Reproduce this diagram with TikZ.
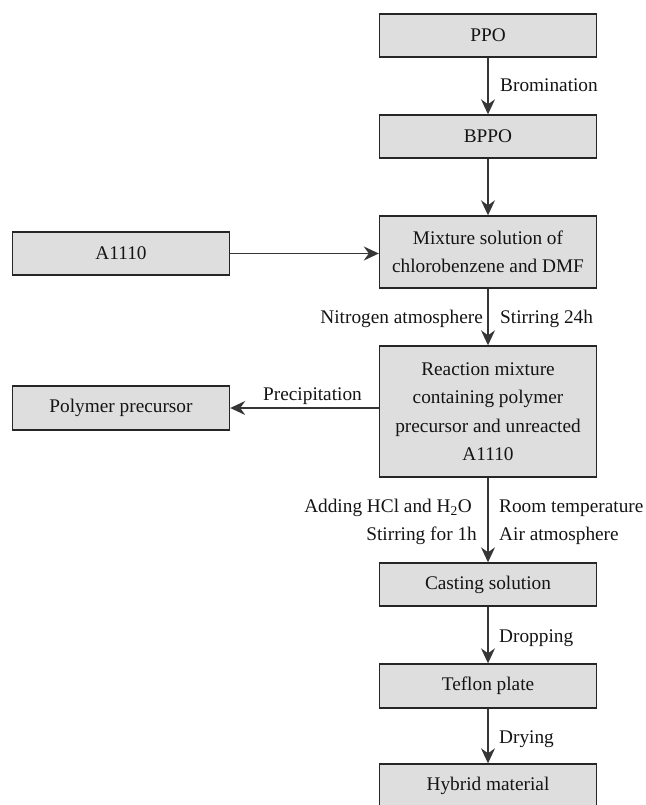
\documentclass[tikz,border=0pt]{standalone}
\usepackage{fontspec}
\setmainfont{Liberation Serif}
\usetikzlibrary{arrows.meta}
\definecolor{boxfill}{HTML}{DEDEDE}
\definecolor{boxline}{HTML}{262626}
\definecolor{arrline}{HTML}{363636}
\definecolor{txt}{HTML}{141414}
\newcommand{\fsz}{\fontsize{19.3}{28.5}\selectfont}
\begin{document}
\begin{tikzpicture}[x=1pt,y=-1pt,
  procbox/.style={draw=boxline, fill=boxfill, line width=1.4pt, minimum width=217pt,
    minimum height=43pt, inner sep=0pt, align=center, font=\fsz, text=txt},
  lab/.style={font=\fsz, text=txt, inner sep=0pt},
  arr/.style={draw=arrline, line width=1.6pt,
    -{Stealth[length=15pt,width=14pt,inset=5pt]}}]
\useasboundingbox (0,0) rectangle (645,805);
\clip (0,0) rectangle (645,805);
\node[procbox] (ppo) at (488,35.5) {PPO};
\node[procbox] (bppo) at (488,136.5) {BPPO};
\node[procbox, minimum height=72pt] (mix) at (488,252) {Mixture solution of\\chlorobenzene and DMF};
\node[procbox] (a1110) at (121,253.5) {A1110};
\node[procbox, minimum height=131pt] (react) at (488,411.5) {Reaction mixture\\containing polymer\\precursor and unreacted\\A1110};
\node[procbox, minimum height=44pt] (poly) at (121,408) {Polymer precursor};
\node[procbox] (cast) at (488,584.5) {Casting solution};
\node[procbox, minimum height=44pt] (teflon) at (488,686) {Teflon plate};
\node[procbox] (hybrid) at (488,785.5) {Hybrid material};

\draw[arr] (ppo) -- (bppo);
\draw[arr] (bppo) -- (mix);
\draw[arr] (a1110.east) -- (a1110.east -| mix.west);
\draw[arr] (mix) -- (react);
\draw[arr] (poly.east -| react.west) -- (poly.east);
\draw[arr] (react) -- (cast);
\draw[arr] (cast) -- (teflon);
\draw[arr] (teflon) -- (hybrid);

\node[lab, anchor=base west] (l1) at (500,92) {Bromination};
\node[lab, anchor=base east] (l2) at (483,323) {Nitrogen atmosphere};
\node[lab, anchor=base west] (l3) at (500,323) {Stirring 24h};
\node[lab, anchor=base] (l4) at (312.5,400) {Precipitation};
\node[lab, anchor=base east] (l5) at (472,512) {Adding HCl and H\textsubscript{2}O};
\node[lab, anchor=base east] (l6) at (477,540) {Stirring for 1h};
\node[lab, anchor=base west] (l7) at (499,512) {Room temperature};
\node[lab, anchor=base west] (l8) at (499,540) {Air atmosphere};
\node[lab, anchor=base west] (l9) at (499,642) {Dropping};
\node[lab, anchor=base west] (l10) at (499,743) {Drying};
\end{tikzpicture}
\end{document}
